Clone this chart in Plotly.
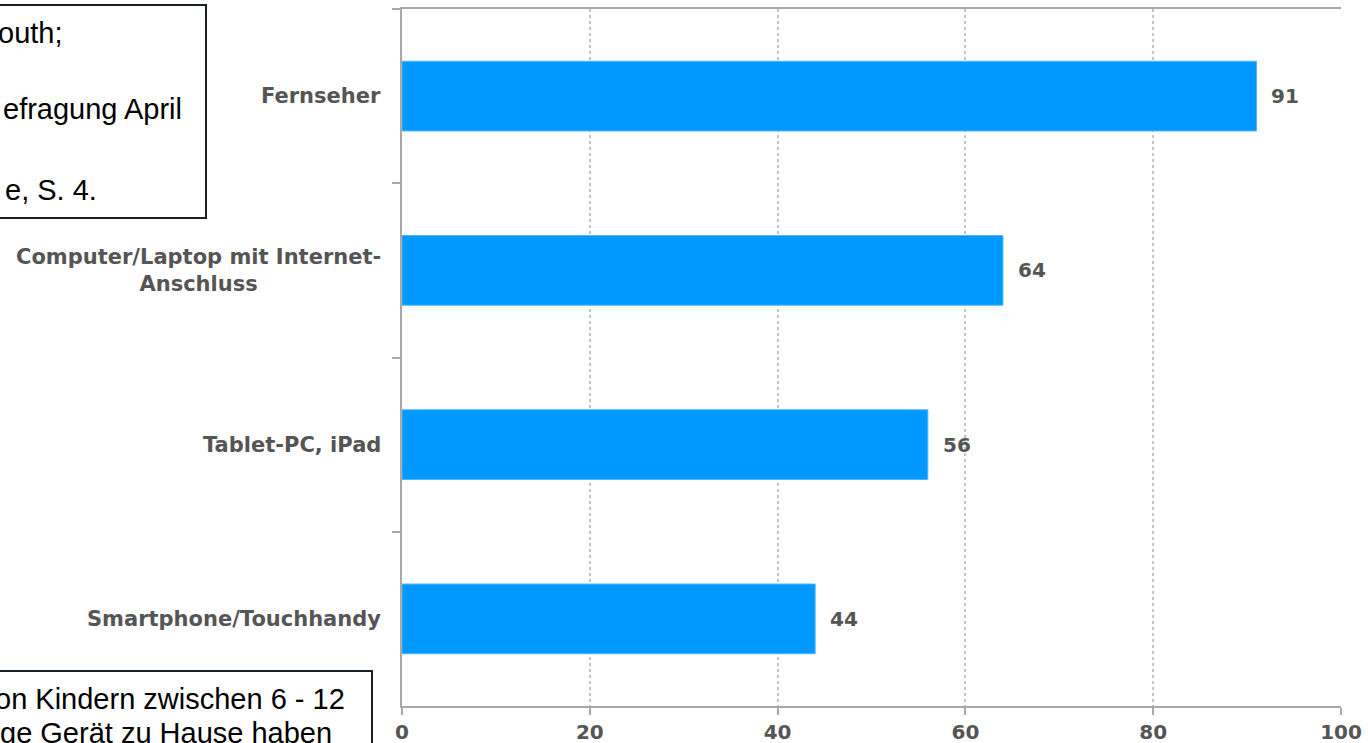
import plotly.graph_objects as go

# ---- data ----
categories = ["Fernseher", "Computer/Laptop mit Internet-<br>Anschluss", "Tablet-PC, iPad", "Smartphone/Touchhandy"]
values = [91, 64, 56, 44]
x_ticks = [0, 20, 40, 60, 80, 100]
box_top_lines = ["outh;", "efragung April", "e, S. 4."]
box_bottom_lines = ["on Kindern zwischen 6 - 12", "ge Gerät zu Hause haben"]

# ---- layout geometry ----
W, H = 1368, 743
ML, MR, MT, MB = 402, 27, 9, 37
PW, PH = W - ML - MR, H - MT - MB


def px2x(px):
    return (px - ML) / PW


def py2y(py):
    return (H - MB - py) / PH


BAR_COLOR = "#0099ff"
LABEL_COLOR = "#555555"
AXIS_COLOR = "#a8a8a8"
CAT_FONT = dict(family="DejaVu Sans", size=21, color=LABEL_COLOR, weight="bold")
VAL_FONT = dict(family="DejaVu Sans", size=20, color=LABEL_COLOR, weight="bold")

fig = go.Figure()
fig.add_trace(go.Bar(
    x=values, y=categories, orientation="h",
    marker=dict(color=BAR_COLOR, line=dict(color="#4db8ff", width=1)),
    width=0.4, hoverinfo="x+y",
))

annotations = []
# value labels
for c, v in zip(categories, values):
    annotations.append(dict(x=v, y=c, xref="x", yref="y", text=str(v), showarrow=False,
                            xanchor="left", yanchor="middle", xshift=13, font=VAL_FONT))
# category labels
for c in categories:
    annotations.append(dict(x=0, y=c, xref="paper", yref="y", text=c, showarrow=False,
                            xanchor="right", yanchor="middle", align="center", xshift=-19,
                            font=CAT_FONT))

# text boxes (overlaid notes)
BOX_FONT = dict(family="Liberation Sans, Arial", size=29, color="#000000")
top_right_ends = [65, 184, 99]
top_centers = [33, 109, 190]
for t, xr, yc in zip(box_top_lines, top_right_ends, top_centers):
    annotations.append(dict(x=px2x(xr), y=py2y(yc), xref="paper", yref="paper", text=t,
                            showarrow=False, xanchor="right", yanchor="middle", font=BOX_FONT))
bot_right_ends = [347, 334]
bot_centers = [699, 733]
for t, xr, yc in zip(box_bottom_lines, bot_right_ends, bot_centers):
    annotations.append(dict(x=px2x(xr), y=py2y(yc), xref="paper", yref="paper", text=t,
                            showarrow=False, xanchor="right", yanchor="middle", font=BOX_FONT))

shapes = [
    dict(type="rect", xref="paper", yref="paper", layer="below",
         x0=px2x(-10), x1=px2x(206), y0=py2y(218), y1=py2y(5),
         line=dict(color="#18202a", width=2), fillcolor="white"),
    dict(type="rect", xref="paper", yref="paper", layer="below",
         x0=px2x(-10), x1=px2x(372), y0=py2y(760), y1=py2y(671),
         line=dict(color="#18202a", width=2), fillcolor="white"),
]

fig.update_layout(
    width=W, height=H,
    margin=dict(l=ML, r=MR, t=MT, b=MB, pad=0, autoexpand=False),
    paper_bgcolor="white", plot_bgcolor="white",
    showlegend=False,
    bargap=0.6,
    annotations=annotations,
    shapes=shapes,
    xaxis=dict(
        range=[0, 100], tickvals=x_ticks, ticktext=[str(v) for v in x_ticks],
        showgrid=True, gridcolor="#c4c4c4", griddash="dot", gridwidth=2,
        zeroline=False, showline=True, linecolor=AXIS_COLOR, linewidth=2, mirror=True,
        ticks="outside", ticklen=7, tickwidth=2, tickcolor=AXIS_COLOR,
        tickfont=VAL_FONT, fixedrange=True, automargin=False,
    ),
    yaxis=dict(
        categoryorder="array", categoryarray=categories, range=[3.5, -0.5],
        tickson="boundaries", ticks="outside", ticklen=8, tickwidth=2, tickcolor=AXIS_COLOR,
        showticklabels=False, showgrid=False, zeroline=False,
        showline=True, linecolor=AXIS_COLOR, linewidth=2, fixedrange=True, automargin=False,
    ),
)

fig.write_html("out.html")
